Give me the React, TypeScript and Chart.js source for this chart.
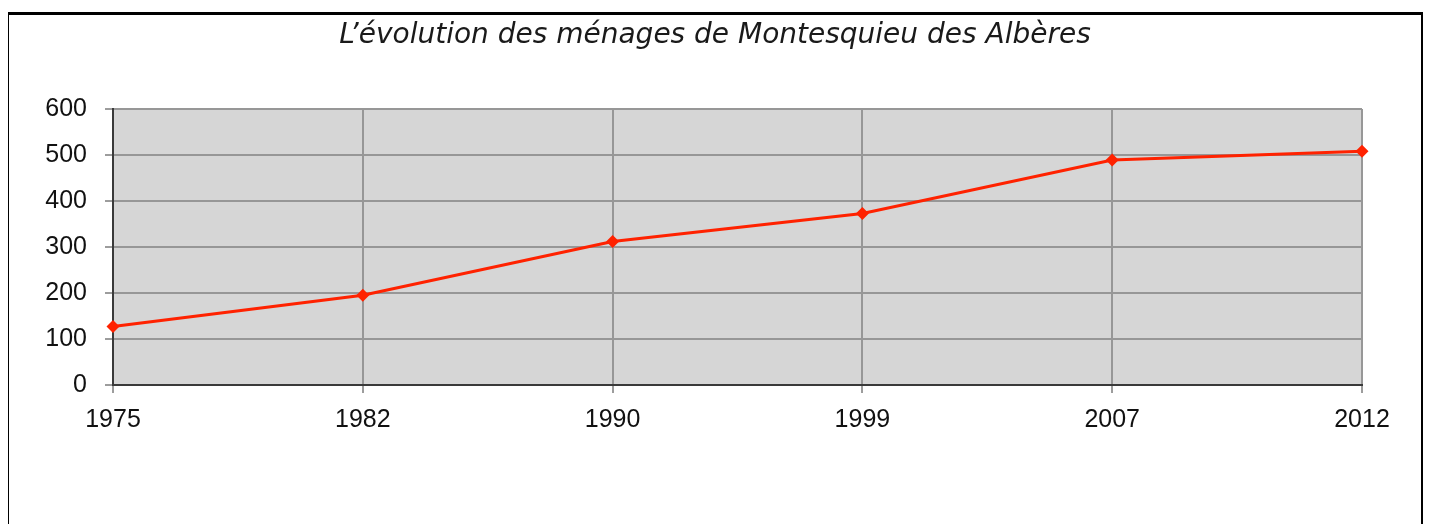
import React, { useEffect, useRef } from "react";
import { Chart, registerables } from "chart.js";

Chart.register(...registerables);

const TITLE = "L’évolution des ménages de Montesquieu des Albères";
const years = ["1975", "1982", "1990", "1999", "2007", "2012"];
const households = [127, 195, 312, 373, 489, 508];
const yTicks = [0, 100, 200, 300, 400, 500, 600];

const LINE_RED = "#ff2200";
const PLOT_BG = "#d6d6d6";
const GRID_GRAY = "#979797";
const AXIS_DARK = "#3a3a3a";
const TICK_FONT = { family: "'Liberation Sans', Arial, sans-serif", size: 25 };

const plotBackground = {
  id: "plotBackground",
  beforeDraw(chart: any) {
    const { ctx, chartArea } = chart;
    ctx.save();
    ctx.fillStyle = PLOT_BG;
    ctx.fillRect(chartArea.left, chartArea.top, chartArea.right - chartArea.left, chartArea.bottom - chartArea.top);
    ctx.restore();
  },
};

const centeredTitle = {
  id: "centeredTitle",
  afterDraw(chart: any) {
    const { ctx, width } = chart;
    ctx.save();
    ctx.font = "italic 28px 'DejaVu Sans', sans-serif";
    ctx.fillStyle = "#1a1a1a";
    ctx.textAlign = "center";
    ctx.textBaseline = "alphabetic";
    ctx.fillText(TITLE, width / 2, 28);
    ctx.restore();
  },
};

export default function App() {
  const canvasRef = useRef<HTMLCanvasElement | null>(null);

  useEffect(() => {
    if (!canvasRef.current) return;
    const chart = new Chart(canvasRef.current, {
      type: "line",
      data: {
        labels: years,
        datasets: [
          {
            data: households,
            borderColor: LINE_RED,
            backgroundColor: LINE_RED,
            borderWidth: 3,
            pointStyle: "rectRot",
            pointRadius: 6.5,
            pointBorderWidth: 0,
            tension: 0,
            clip: false,
          },
        ],
      },
      options: {
        responsive: false,
        animation: false,
        layout: { padding: { top: 94, right: 59, bottom: 90, left: 0 } },
        plugins: {
          legend: { display: false },
          title: { display: false },
          tooltip: { enabled: false },
        },
        scales: {
          x: {
            type: "category",
            offset: false,
            grid: {
              offset: false,
              color: GRID_GRAY,
              lineWidth: 2,
              tickColor: AXIS_DARK,
              tickLength: 8,
              tickWidth: 1,
            },
            border: { display: true, color: AXIS_DARK, width: 2 },
            ticks: { font: TICK_FONT, color: "#111", padding: 12, maxRotation: 0 },
            afterFit: (s: any) => {
              s.height = 60;
            },
          },
          y: {
            min: 0,
            max: 600,
            afterBuildTicks: (s: any) => {
              s.ticks = yTicks.map((v) => ({ value: v }));
            },
            grid: {
              color: GRID_GRAY,
              lineWidth: 2,
              tickColor: AXIS_DARK,
              tickLength: 8,
              tickWidth: 1,
            },
            border: { display: true, color: AXIS_DARK, width: 2 },
            ticks: { font: TICK_FONT, color: "#111", padding: 18 },
            afterFit: (s: any) => {
              s.width = 104;
            },
          },
        },
      },
      plugins: [plotBackground, centeredTitle],
    });
    return () => chart.destroy();
  }, []);

  return (
    <div
      style={{
        marginTop: 4,
        marginLeft: -2,
        marginRight: -1,
        border: "3px solid #000",
        borderBottom: "none",
        height: 520,
        background: "#fff",
      }}
    >
      <canvas ref={canvasRef} width={1412} height={520} style={{ display: "block" }} />
    </div>
  );
}
